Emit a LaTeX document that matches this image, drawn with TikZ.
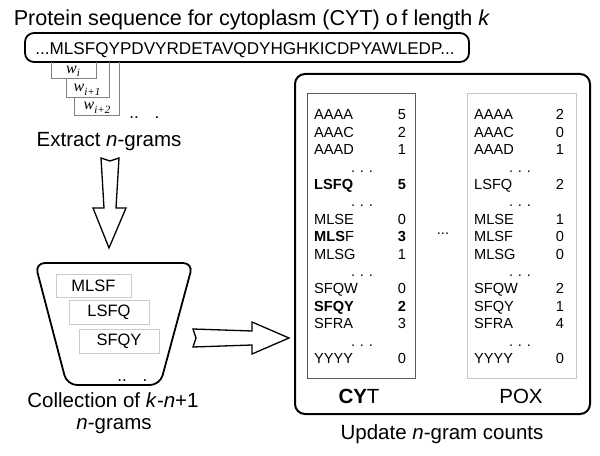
\documentclass[tikz,border=0pt]{standalone}
\usepackage{fontspec}
\setmainfont{Liberation Sans}
\newfontfamily\serifit{Liberation Serif}
\newcommand\wlab[1]{{\serifit\itshape w}\raisebox{-3.2bp}{\fontsize{11bp}{12bp}\selectfont\serifit\itshape #1}}
\begin{document}
\begin{tikzpicture}[x=1bp,y=-1bp,
  lbl/.style={font=\fontsize{20.5bp}{24bp}\selectfont, inner sep=0pt, anchor=base},
  seqtxt/.style={font=\fontsize{17.1bp}{20bp}\selectfont, inner sep=0pt, anchor=base},
  tabname/.style={font=\fontsize{14.6bp}{16bp}\selectfont, inner sep=0pt, anchor=base west},
  tabnum/.style={font=\fontsize{14.6bp}{16bp}\selectfont, inner sep=0pt, anchor=base},
  gram/.style={font=\fontsize{16.5bp}{19bp}\selectfont, draw=black!20, line width=0.8bp, inner sep=0pt},
  wl/.style={font=\fontsize{16bp}{17bp}\selectfont, inner sep=0pt, anchor=base},
  thickbox/.style={draw=black, line width=1.8bp, rounded corners=9bp},
  winline/.style={draw=black!50, line width=1bp},
  blockarrow/.style={draw=black, line width=1.3bp, fill=white, line join=miter},
  cytbox/.style={draw=black!65, line width=0.9bp},
  poxbox/.style={draw=black!22, line width=0.9bp}]
\useasboundingbox (0,0) rectangle (600,456);

% title and sequence
\node[lbl, font=\fontsize{21.6bp}{24bp}\selectfont] (title) at (252,26) {Protein sequence for cytoplasm (CYT) o\,f length \textit{k}};
\draw[thickbox] (25,33) rectangle (469,62);
\node[seqtxt] (seq) at (245,55) {...MLSFQYPDVYRDETAVQDYHGHKICDPYAWLEDP...};

% windows
\draw[winline] (51,62) -- (51,79) -- (96,79) -- (96,62);
\draw[winline] (66,79) -- (66,98) -- (109,98) -- (109,62);
\draw[winline] (74,98) -- (74,116) -- (119,116) -- (119,62);
\node[wl] (w1) at (73,73.5) {\wlab{i}};
\node[wl] (w2) at (87,92) {\wlab{i+1}};
\node[wl] (w3) at (97,110) {\wlab{i+2}};
\node[seqtxt] (wd1) at (134,119) {..};
\node[seqtxt] (wd2) at (157,119) {.};

\node[lbl] (extract) at (109,147) {Extract \textit{n}-grams};

% down arrow
\draw[blockarrow] (101,158) -- (110,161) -- (119,158) -- (116,208) -- (126,208)
  -- (109,248) -- (93,208) -- (104,208) -- cycle;

% collection
\draw[thickbox, rounded corners=10bp] (35,263) -- (193,263) -- (160,385) -- (67,385) -- cycle;
\node[gram, minimum width=75bp, minimum height=23bp] (g1) at (93.5,285.5) {MLSF};
\node[gram, minimum width=80bp, minimum height=24bp] (g2) at (109,312) {LSFQ};
\node[gram, minimum width=80bp, minimum height=24bp] (g3) at (119,341) {SFQY};
\node[seqtxt] (cd1) at (122,381) {..};
\node[seqtxt] (cd2) at (145,381) {.};
\node[lbl] (coll1) at (113,407) {Collection of \textit{k}-\textit{n}+1};
\node[lbl] (coll2) at (114,429) {\textit{n}-grams};

% right arrow
\draw[blockarrow] (193,329) -- (196,338) -- (193,347) -- (252,345) -- (252,354)
  -- (289,338) -- (252,322) -- (252,331) -- cycle;

% update box
\draw[thickbox, line width=2bp, rounded corners=10bp] (295,74) rectangle (590,414);
\draw[cytbox] (307,93) rectangle (415,378);
\draw[poxbox] (467,93) rectangle (576,378);

% CYT column
\node[tabname] (c1n) at (314,120.0) {AAAA};   \node[tabnum] (c1v) at (402,120.0) {5};
\node[tabname] (c2n) at (314,137.4) {AAAC};   \node[tabnum] (c2v) at (402,137.4) {2};
\node[tabname] (c3n) at (314,154.8) {AAAD};   \node[tabnum] (c3v) at (402,154.8) {1};
\node[tabnum]  (c4d) at (362,172.2) {.\,\,.\,\,.};
\node[tabname] (c5n) at (314,189.6) {\textbf{LSFQ}}; \node[tabnum] (c5v) at (402,189.6) {\textbf{5}};
\node[tabnum]  (c6d) at (362,207.0) {.\,\,.\,\,.};
\node[tabname] (c7n) at (314,224.4) {MLSE};   \node[tabnum] (c7v) at (402,224.4) {0};
\node[tabname] (c8n) at (314,241.8) {\textbf{MLS}F}; \node[tabnum] (c8v) at (402,241.8) {\textbf{3}};
\node[tabname] (c9n) at (314,259.2) {MLSG};   \node[tabnum] (c9v) at (402,259.2) {1};
\node[tabnum]  (c10d) at (362,276.6) {.\,\,.\,\,.};
\node[tabname] (c11n) at (314,294.0) {SFQW};  \node[tabnum] (c11v) at (402,294.0) {0};
\node[tabname] (c12n) at (314,311.4) {\textbf{SFQY}}; \node[tabnum] (c12v) at (402,311.4) {\textbf{2}};
\node[tabname] (c13n) at (314,328.8) {SFRA};  \node[tabnum] (c13v) at (402,328.8) {3};
\node[tabnum]  (c14d) at (362,346.2) {.\,\,.\,\,.};
\node[tabname] (c15n) at (314,363.6) {YYYY};  \node[tabnum] (c15v) at (402,363.6) {0};

% POX column
\node[tabname] (p1n) at (474,120.0) {AAAA};   \node[tabnum] (p1v) at (560,120.0) {2};
\node[tabname] (p2n) at (474,137.4) {AAAC};   \node[tabnum] (p2v) at (560,137.4) {0};
\node[tabname] (p3n) at (474,154.8) {AAAD};   \node[tabnum] (p3v) at (560,154.8) {1};
\node[tabnum]  (p4d) at (520,172.2) {.\,\,.\,\,.};
\node[tabname] (p5n) at (474,189.6) {LSFQ};   \node[tabnum] (p5v) at (560,189.6) {2};
\node[tabnum]  (p6d) at (520,207.0) {.\,\,.\,\,.};
\node[tabname] (p7n) at (474,224.4) {MLSE};   \node[tabnum] (p7v) at (560,224.4) {1};
\node[tabname] (p8n) at (474,241.8) {MLSF};   \node[tabnum] (p8v) at (560,241.8) {0};
\node[tabname] (p9n) at (474,259.2) {MLSG};   \node[tabnum] (p9v) at (560,259.2) {0};
\node[tabnum]  (p10d) at (520,276.6) {.\,\,.\,\,.};
\node[tabname] (p11n) at (474,294.0) {SFQW};  \node[tabnum] (p11v) at (560,294.0) {2};
\node[tabname] (p12n) at (474,311.4) {SFQY};  \node[tabnum] (p12v) at (560,311.4) {1};
\node[tabname] (p13n) at (474,328.8) {SFRA};  \node[tabnum] (p13v) at (560,328.8) {4};
\node[tabnum]  (p14d) at (520,346.2) {.\,\,.\,\,.};
\node[tabname] (p15n) at (474,363.6) {YYYY};  \node[tabnum] (p15v) at (560,363.6) {0};

\node[tabnum] (mid) at (443,235) {...};

\node[lbl] (cyt) at (359,403) {\textbf{CY}T};
\node[lbl] (pox) at (521,403) {POX};
\node[lbl] (upd) at (442,439) {Update \textit{n}-gram counts};
\end{tikzpicture}
\end{document}
